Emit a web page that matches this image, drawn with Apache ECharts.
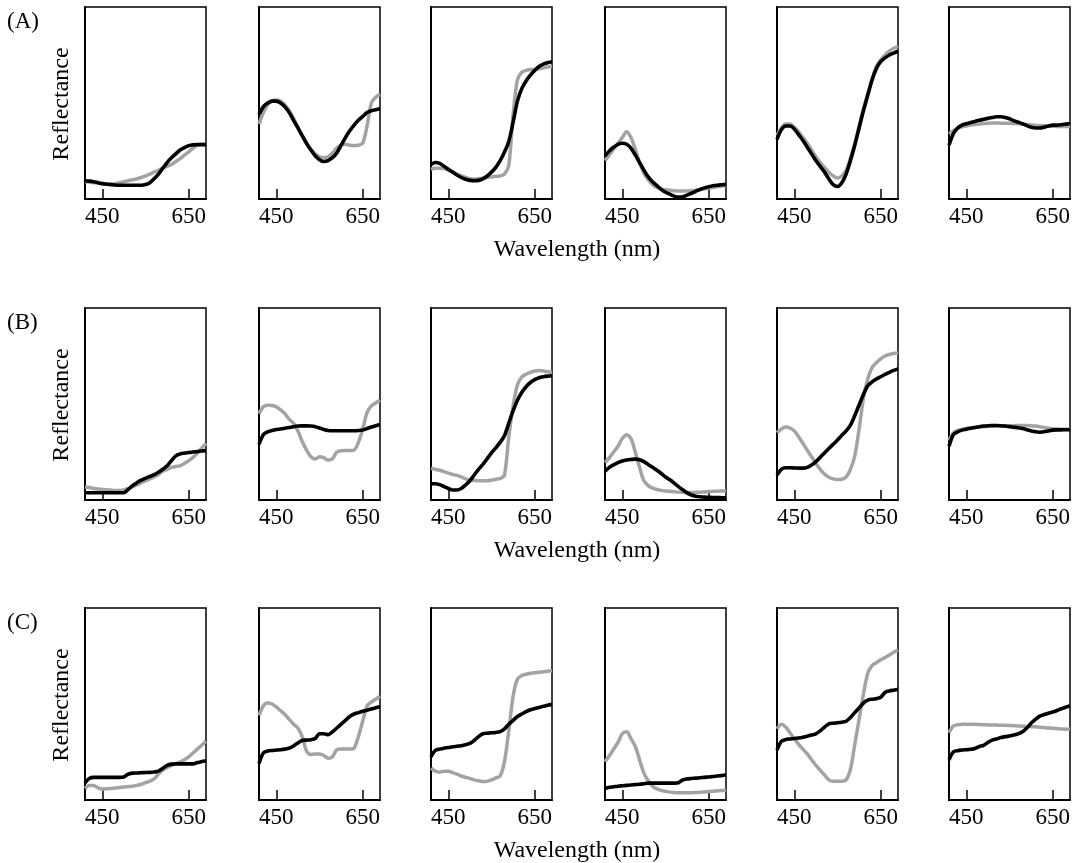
<!DOCTYPE html>
<html>
<head>
<meta charset="utf-8">
<script src="https://cdn.jsdelivr.net/npm/echarts@6/dist/echarts.min.js"></script>
<style>
html,body{margin:0;padding:0;background:#fff;}
#chart{width:1083px;height:863px;}
</style>
</head>
<body>
<div id="chart"></div>
<script>
// Wavelength samples (nm)
const wavelengths = [410,420,430,440,450,460,470,480,490,500,510,520,530,540,550,560,570,580,590,600,610,620,630,640,650,660,670,680,690];
const tickValues = [450, 650];
const rowLabels = ['(A)', '(B)', '(C)'];
const xTitle = 'Wavelength (nm)';
const yTitle = 'Reflectance';

// Row A
const a1Gray  = [0.09,0.088,0.085,0.082,0.08,0.078,0.078,0.08,0.085,0.09,0.095,0.1,0.105,0.112,0.12,0.13,0.14,0.15,0.162,0.17,0.18,0.195,0.21,0.228,0.245,0.265,0.28,0.285,0.285];
const a1Black = [0.095,0.093,0.09,0.085,0.08,0.077,0.075,0.073,0.072,0.072,0.072,0.072,0.072,0.072,0.075,0.085,0.105,0.13,0.16,0.19,0.215,0.235,0.255,0.268,0.278,0.282,0.283,0.283,0.283];
const a2Gray  = [0.39,0.45,0.49,0.51,0.515,0.51,0.49,0.46,0.42,0.375,0.33,0.29,0.26,0.235,0.22,0.215,0.22,0.24,0.265,0.28,0.285,0.28,0.278,0.28,0.29,0.38,0.5,0.53,0.545];
const a2Black = [0.44,0.48,0.5,0.51,0.51,0.5,0.48,0.45,0.41,0.37,0.33,0.29,0.255,0.225,0.205,0.195,0.2,0.215,0.24,0.28,0.32,0.355,0.385,0.41,0.43,0.45,0.46,0.465,0.47];
const a3Gray  = [0.155,0.16,0.16,0.158,0.15,0.14,0.13,0.12,0.112,0.106,0.104,0.105,0.108,0.112,0.115,0.118,0.12,0.13,0.175,0.44,0.62,0.66,0.67,0.675,0.675,0.678,0.682,0.688,0.69];
const a3Black = [0.18,0.19,0.185,0.17,0.155,0.14,0.125,0.112,0.103,0.097,0.095,0.097,0.105,0.12,0.14,0.165,0.2,0.245,0.3,0.4,0.51,0.575,0.615,0.645,0.67,0.69,0.703,0.71,0.715];
const a4Gray  = [0.2,0.23,0.26,0.29,0.32,0.35,0.32,0.26,0.19,0.135,0.1,0.075,0.06,0.052,0.048,0.045,0.043,0.042,0.042,0.042,0.043,0.045,0.048,0.052,0.056,0.06,0.064,0.067,0.07];
const a4Black = [0.225,0.25,0.27,0.285,0.29,0.285,0.265,0.23,0.19,0.15,0.115,0.09,0.07,0.05,0.035,0.025,0.015,0.01,0.012,0.02,0.03,0.04,0.05,0.058,0.064,0.069,0.072,0.074,0.076];
const a5Gray  = [0.33,0.37,0.39,0.39,0.375,0.35,0.32,0.29,0.255,0.22,0.19,0.165,0.14,0.12,0.11,0.12,0.15,0.215,0.29,0.38,0.47,0.55,0.625,0.69,0.725,0.75,0.77,0.785,0.795];
const a5Black = [0.31,0.36,0.38,0.38,0.365,0.335,0.305,0.27,0.235,0.2,0.17,0.14,0.105,0.075,0.065,0.085,0.13,0.2,0.28,0.37,0.46,0.54,0.62,0.68,0.715,0.735,0.75,0.76,0.77];
const a6Gray  = [0.34,0.355,0.368,0.376,0.38,0.385,0.388,0.39,0.393,0.395,0.396,0.396,0.395,0.395,0.394,0.393,0.392,0.39,0.388,0.386,0.384,0.382,0.381,0.38,0.379,0.378,0.377,0.377,0.376];
const a6Black = [0.28,0.34,0.37,0.385,0.392,0.398,0.404,0.41,0.415,0.42,0.424,0.428,0.428,0.425,0.418,0.408,0.4,0.392,0.382,0.374,0.37,0.37,0.374,0.38,0.385,0.385,0.387,0.39,0.393];

// Row B
const b1Gray  = [0.068,0.065,0.06,0.057,0.055,0.053,0.052,0.05,0.05,0.052,0.06,0.068,0.078,0.09,0.1,0.11,0.12,0.133,0.15,0.16,0.17,0.175,0.178,0.19,0.205,0.222,0.245,0.27,0.295];
const b1Black = [0.038,0.038,0.038,0.038,0.038,0.038,0.038,0.038,0.038,0.038,0.055,0.075,0.09,0.103,0.113,0.123,0.132,0.145,0.16,0.178,0.205,0.23,0.24,0.244,0.247,0.25,0.252,0.255,0.257];
const b2Gray  = [0.45,0.485,0.493,0.492,0.485,0.47,0.45,0.42,0.4,0.36,0.305,0.26,0.225,0.213,0.225,0.22,0.208,0.215,0.25,0.257,0.258,0.258,0.26,0.3,0.37,0.455,0.49,0.505,0.52];
const b2Black = [0.29,0.34,0.355,0.362,0.367,0.37,0.374,0.378,0.382,0.385,0.386,0.386,0.385,0.382,0.375,0.367,0.362,0.361,0.361,0.361,0.361,0.361,0.361,0.362,0.365,0.372,0.38,0.387,0.393];
const b3Gray  = [0.166,0.16,0.155,0.148,0.14,0.133,0.128,0.12,0.11,0.105,0.102,0.1,0.1,0.1,0.103,0.108,0.112,0.13,0.33,0.49,0.6,0.64,0.655,0.665,0.672,0.675,0.672,0.668,0.664];
const b3Black = [0.085,0.085,0.08,0.07,0.06,0.052,0.052,0.06,0.078,0.1,0.13,0.16,0.185,0.215,0.245,0.272,0.3,0.335,0.4,0.465,0.52,0.56,0.59,0.612,0.627,0.637,0.642,0.645,0.647];
const b4Gray  = [0.196,0.22,0.25,0.28,0.32,0.34,0.32,0.25,0.17,0.1,0.075,0.062,0.055,0.05,0.047,0.045,0.043,0.041,0.04,0.039,0.039,0.04,0.041,0.042,0.044,0.045,0.046,0.047,0.048];
const b4Black = [0.15,0.17,0.183,0.195,0.203,0.208,0.211,0.213,0.21,0.2,0.185,0.17,0.155,0.138,0.12,0.105,0.088,0.07,0.053,0.037,0.026,0.02,0.017,0.015,0.014,0.013,0.013,0.012,0.012];
const b5Gray  = [0.35,0.37,0.38,0.375,0.36,0.33,0.295,0.26,0.225,0.19,0.16,0.135,0.118,0.11,0.107,0.108,0.12,0.16,0.23,0.37,0.53,0.63,0.69,0.715,0.735,0.75,0.758,0.763,0.765];
const b5Black = [0.13,0.16,0.168,0.168,0.167,0.166,0.166,0.17,0.182,0.2,0.222,0.245,0.268,0.29,0.312,0.337,0.36,0.39,0.44,0.495,0.55,0.595,0.615,0.63,0.642,0.654,0.665,0.675,0.683];
const b6Gray  = [0.31,0.35,0.362,0.368,0.372,0.376,0.378,0.38,0.382,0.383,0.384,0.385,0.385,0.386,0.387,0.387,0.388,0.388,0.388,0.387,0.385,0.382,0.378,0.374,0.371,0.37,0.369,0.369,0.369];
const b6Black = [0.28,0.34,0.355,0.364,0.369,0.374,0.378,0.382,0.385,0.387,0.388,0.388,0.387,0.385,0.382,0.379,0.376,0.372,0.366,0.36,0.355,0.353,0.355,0.36,0.364,0.365,0.365,0.366,0.366];

// Row C
const c1Gray  = [0.06,0.075,0.075,0.063,0.057,0.058,0.06,0.062,0.065,0.068,0.07,0.072,0.076,0.082,0.09,0.098,0.11,0.135,0.155,0.17,0.18,0.19,0.198,0.21,0.225,0.245,0.265,0.285,0.306];
const c1Black = [0.09,0.112,0.118,0.118,0.118,0.118,0.118,0.118,0.118,0.12,0.135,0.14,0.141,0.142,0.143,0.144,0.146,0.15,0.165,0.18,0.187,0.188,0.188,0.188,0.188,0.188,0.195,0.2,0.205];
const c2Gray  = [0.44,0.49,0.505,0.5,0.485,0.465,0.445,0.42,0.395,0.375,0.33,0.255,0.237,0.24,0.24,0.232,0.218,0.225,0.262,0.265,0.265,0.265,0.27,0.33,0.41,0.49,0.51,0.525,0.54];
const c2Black = [0.19,0.245,0.255,0.258,0.26,0.262,0.265,0.27,0.282,0.297,0.31,0.312,0.314,0.32,0.345,0.345,0.34,0.355,0.375,0.395,0.415,0.435,0.448,0.455,0.462,0.468,0.474,0.48,0.486];
const c3Gray  = [0.166,0.15,0.145,0.15,0.15,0.143,0.135,0.125,0.118,0.112,0.105,0.1,0.096,0.097,0.105,0.115,0.125,0.2,0.36,0.54,0.63,0.648,0.655,0.66,0.663,0.665,0.668,0.67,0.673];
const c3Black = [0.225,0.258,0.265,0.27,0.273,0.277,0.28,0.283,0.288,0.295,0.31,0.33,0.345,0.348,0.35,0.352,0.356,0.37,0.395,0.415,0.435,0.448,0.46,0.47,0.476,0.482,0.488,0.494,0.498];
const c4Gray  = [0.2,0.23,0.265,0.3,0.345,0.355,0.32,0.28,0.21,0.14,0.1,0.072,0.058,0.05,0.045,0.041,0.039,0.038,0.038,0.038,0.038,0.039,0.04,0.042,0.044,0.046,0.048,0.05,0.051];
const c4Black = [0.06,0.066,0.069,0.072,0.074,0.076,0.078,0.08,0.082,0.085,0.088,0.088,0.088,0.088,0.088,0.088,0.088,0.09,0.105,0.11,0.112,0.114,0.116,0.118,0.12,0.122,0.125,0.127,0.13];
const c5Gray  = [0.37,0.395,0.38,0.35,0.32,0.29,0.265,0.24,0.21,0.18,0.155,0.13,0.105,0.098,0.098,0.098,0.105,0.16,0.29,0.42,0.55,0.66,0.7,0.715,0.73,0.742,0.755,0.77,0.78];
const c5Black = [0.26,0.305,0.315,0.318,0.32,0.323,0.327,0.332,0.338,0.345,0.36,0.38,0.397,0.4,0.402,0.405,0.41,0.43,0.455,0.48,0.505,0.52,0.525,0.528,0.535,0.56,0.568,0.572,0.576];
const c6Gray  = [0.35,0.385,0.392,0.394,0.395,0.395,0.394,0.393,0.392,0.391,0.39,0.39,0.389,0.389,0.388,0.387,0.386,0.384,0.383,0.382,0.381,0.379,0.377,0.375,0.374,0.372,0.37,0.369,0.368];
const c6Black = [0.21,0.25,0.257,0.26,0.262,0.264,0.268,0.278,0.285,0.3,0.312,0.318,0.325,0.33,0.333,0.338,0.345,0.355,0.375,0.4,0.42,0.437,0.445,0.452,0.458,0.466,0.475,0.483,0.491];

const panels = [
  [[a1Gray,a1Black],[a2Gray,a2Black],[a3Gray,a3Black],[a4Gray,a4Black],[a5Gray,a5Black],[a6Gray,a6Black]],
  [[b1Gray,b1Black],[b2Gray,b2Black],[b3Gray,b3Black],[b4Gray,b4Black],[b5Gray,b5Black],[b6Gray,b6Black]],
  [[c1Gray,c1Black],[c2Gray,c2Black],[c3Gray,c3Black],[c4Gray,c4Black],[c5Gray,c5Black],[c6Gray,c6Black]]
];

// layout
const colLefts = [85, 259, 431, 605, 777, 949];
const rowTops = [7, 308, 608];
const panelW = 121, panelH = 192;
const serif = '"Liberation Serif", "Times New Roman", serif';

const grids = [], xAxes = [], yAxes = [], series = [], graphics = [];
let gi = 0;
rowTops.forEach((top, r) => {
  colLefts.forEach((left, c) => {
    grids.push({left: left, top: top, width: panelW, height: panelH, show: true,
      borderColor: '#000', borderWidth: 1.5, backgroundColor: 'transparent', containLabel: false});
    xAxes.push({type: 'value', gridIndex: gi, min: 410, max: 690,
      axisLine: {show: true, lineStyle: {color: '#000', width: 2}},
      axisTick: {show: true, inside: true, length: 10, lineStyle: {color: '#000', width: 1.5}, customValues: tickValues},
      axisLabel: {show: true, color: '#000', fontFamily: serif, fontSize: 23, margin: 6, customValues: tickValues,
        showMinLabel: true, showMaxLabel: true},
      splitLine: {show: false}});
    yAxes.push({type: 'value', gridIndex: gi, min: 0, max: 1,
      axisLine: {show: true, onZero: false, lineStyle: {color: '#000', width: 2}},
      axisTick: {show: false}, axisLabel: {show: false}, splitLine: {show: false}});
    const pair = panels[r][c];
    series.push({type: 'line', xAxisIndex: gi, yAxisIndex: gi, showSymbol: false, smooth: 0.3,
      data: wavelengths.map((w, i) => [w, pair[0][i]]),
      lineStyle: {color: '#a3a3a3', width: 3.5}, z: 2, silent: true, animation: false});
    series.push({type: 'line', xAxisIndex: gi, yAxisIndex: gi, showSymbol: false, smooth: 0.3,
      data: wavelengths.map((w, i) => [w, pair[1][i]]),
      lineStyle: {color: '#000', width: 3.6}, z: 3, silent: true, animation: false});
    gi++;
  });
  graphics.push({type: 'text', left: 7, top: top + 3,
    style: {text: rowLabels[r], font: '23px ' + serif, fill: '#000'}});
  graphics.push({type: 'text', x: 62, y: top + 97, rotation: Math.PI / 2,
    style: {text: yTitle, font: '24px ' + serif, fill: '#000', align: 'center', verticalAlign: 'middle'}});
  graphics.push({type: 'text', x: 577, y: top + 243,
    style: {text: xTitle, font: '24px ' + serif, fill: '#000', align: 'center', verticalAlign: 'middle'}});
});

const chart = echarts.init(document.getElementById('chart'));
chart.setOption({
  animation: false,
  backgroundColor: '#fff',
  grid: grids,
  xAxis: xAxes,
  yAxis: yAxes,
  series: series,
  graphic: graphics
});
</script>
</body>
</html>
